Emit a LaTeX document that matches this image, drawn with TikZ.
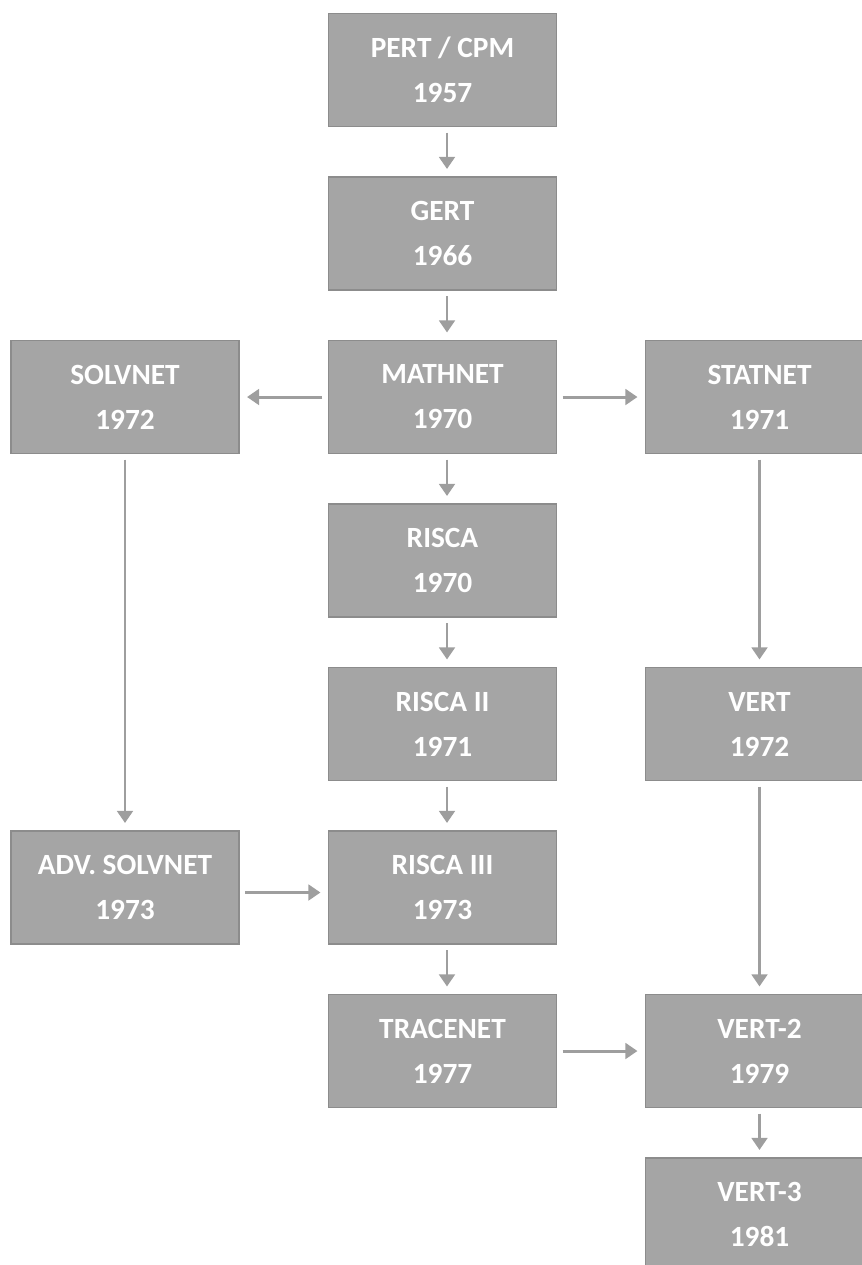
\documentclass[tikz,border=0pt]{standalone}
\usepackage{fontspec}
\setmainfont{Carlito}
\usepackage{xcolor}
\usepackage{tikz}
\usetikzlibrary{arrows.meta, positioning}
\definecolor{boxgray}{RGB}{165, 165, 165}
\definecolor{edgegray}{RGB}{140, 140, 140}
\definecolor{arrowgray}{RGB}{158, 158, 158}

\begin{document}
\begin{tikzpicture}[
    tool/.style={rectangle, draw=edgegray, line width=0.6pt, fill=boxgray,
        minimum width=4.56cm, minimum height=2.26cm, inner sep=0pt, align=center,
        text=white, font=\fontsize{16.7}{25.6}\selectfont\bfseries},
    arr/.style={-{Triangle[length=0.24cm, width=0.31cm]}, line width=1.7pt, arrowgray,
        shorten <=0.11cm, shorten >=0.15cm}
]
\useasboundingbox (0,0) rectangle (17.24,-25.30);

% Middle column
\node[tool] (pert)     at (8.85, -1.40)  {PERT / CPM\\1957};
\node[tool] (gert)     at (8.85, -4.67)  {GERT\\1966};
\node[tool] (mathnet)  at (8.85, -7.94)  {MATHNET\\1970};
\node[tool] (risca)    at (8.85, -11.21) {RISCA\\1970};
\node[tool] (riscaii)  at (8.85, -14.48) {RISCA II\\1971};
\node[tool] (riscaiii) at (8.85, -17.75) {RISCA III\\1973};
\node[tool] (tracenet) at (8.85, -21.02) {TRACENET\\1977};

% Left column
\node[tool] (solvnet)  at (2.50, -7.94)  {SOLVNET\\1972};
\node[tool] (advsolv)  at (2.50, -17.75) {ADV. SOLVNET\\1973};

% Right column
\node[tool] (statnet)  at (15.19, -7.94)  {STATNET\\1971};
\node[tool] (vert)     at (15.19, -14.48) {VERT\\1972};
\node[tool] (vertii)   at (15.19, -21.02) {VERT-2\\1979};
\node[tool] (vertiii)  at (15.19, -24.29) {VERT-3\\1981};

% Middle column arrows
\draw[arr] ([xshift=0.09cm]pert.south)     -- ([xshift=0.09cm]gert.north);
\draw[arr] ([xshift=0.09cm]gert.south)     -- ([xshift=0.09cm]mathnet.north);
\draw[arr] ([xshift=0.09cm]mathnet.south)  -- ([xshift=0.09cm]risca.north);
\draw[arr] ([xshift=0.09cm]risca.south)    -- ([xshift=0.09cm]riscaii.north);
\draw[arr] ([xshift=0.09cm]riscaii.south)  -- ([xshift=0.09cm]riscaiii.north);
\draw[arr] ([xshift=0.09cm]riscaiii.south) -- ([xshift=0.09cm]tracenet.north);

% Side branches
\draw[arr] (mathnet.west) -- (solvnet.east);
\draw[arr] (mathnet.east) -- (statnet.west);
\draw[arr] (solvnet.south) -- (advsolv.north);
\draw[arr] ([yshift=-0.1cm]advsolv.east) -- ([yshift=-0.1cm]riscaiii.west);
\draw[arr] (statnet.south) -- (vert.north);
\draw[arr] (vert.south) -- (vertii.north);
\draw[arr] (tracenet.east) -- (vertii.west);
\draw[arr] (vertii.south) -- (vertiii.north);

\end{tikzpicture}
\end{document}
